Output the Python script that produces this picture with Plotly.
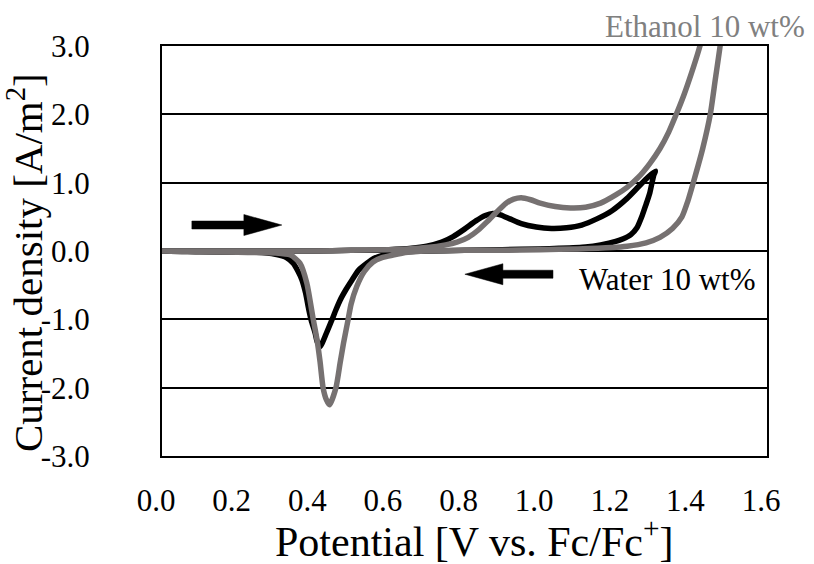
import plotly.graph_objects as go

# ---------------- data ----------------
water_fwd_x = [0.00, 0.10, 0.20, 0.30, 0.40, 0.50, 0.60, 0.66, 0.70, 0.74, 0.77, 0.80, 0.83, 0.855,
               0.875, 0.895, 0.92, 0.95, 0.99, 1.03, 1.07, 1.11, 1.15, 1.19, 1.23, 1.26, 1.285, 1.305]
water_fwd_y = [0.00, 0.00, 0.00, 0.00, 0.00, 0.01, 0.02, 0.04, 0.07, 0.13, 0.21, 0.32, 0.44, 0.52,
               0.55, 0.53, 0.47, 0.40, 0.35, 0.33, 0.34, 0.38, 0.47, 0.59, 0.77, 0.94, 1.08, 1.17]
water_rev_x = [1.300, 1.290, 1.280, 1.270, 1.256, 1.240, 1.220, 1.200, 1.160, 1.120, 1.050, 1.000,
               0.900, 0.800, 0.700, 0.650, 0.620, 0.585, 0.560, 0.542, 0.520, 0.503, 0.487, 0.471,
               0.460, 0.450, 0.435, 0.418, 0.410, 0.405, 0.395, 0.388, 0.380, 0.370, 0.360, 0.347,
               0.330, 0.300, 0.250, 0.200, 0.100, 0.000]
water_rev_y = [1.10, 0.85, 0.68, 0.52, 0.34, 0.24, 0.18, 0.14, 0.09, 0.06, 0.04, 0.03,
               0.02, 0.01, 0.00, -0.01, -0.03, -0.06, -0.11, -0.18, -0.28, -0.42, -0.56, -0.72,
               -0.86, -1.00, -1.20, -1.40, -1.32, -1.20, -1.02, -0.85, -0.62, -0.42, -0.30, -0.18,
               -0.10, -0.05, -0.02, -0.02, -0.01, 0.00]

ethanol_fwd_x = [0.00, 0.10, 0.20, 0.30, 0.40, 0.50, 0.60, 0.65, 0.70, 0.75, 0.78, 0.81, 0.835,
                 0.86, 0.885, 0.91, 0.93, 0.95, 0.975, 1.00, 1.04, 1.08, 1.12, 1.16, 1.20, 1.23,
                 1.26, 1.29, 1.317, 1.34, 1.36, 1.38, 1.40, 1.42, 1.44, 1.46, 1.48]
ethanol_fwd_y = [0.00, 0.00, 0.00, 0.00, 0.00, 0.01, 0.02, 0.03, 0.05, 0.09, 0.13, 0.20, 0.30,
                 0.43, 0.57, 0.70, 0.76, 0.78, 0.75, 0.70, 0.65, 0.63, 0.64, 0.70, 0.82, 0.93,
                 1.08, 1.28, 1.50, 1.74, 2.00, 2.28, 2.60, 2.95, 3.35, 3.80, 4.30]
ethanol_rev_x = [1.495, 1.488, 1.476, 1.463, 1.450, 1.430, 1.405, 1.390, 1.375, 1.350, 1.317,
                 1.280, 1.230, 1.190, 1.100, 1.000, 0.900, 0.800, 0.700, 0.650, 0.611, 0.580,
                 0.558, 0.535, 0.515, 0.500, 0.492, 0.480, 0.471, 0.460, 0.443, 0.435, 0.426,
                 0.418, 0.410, 0.400, 0.383, 0.365, 0.340, 0.300, 0.200, 0.100, 0.000]
ethanol_rev_y = [4.50, 3.60, 3.00, 2.50, 2.00, 1.50, 1.00, 0.72, 0.50, 0.33, 0.20,
                 0.12, 0.07, 0.05, 0.03, 0.02, 0.01, 0.01, 0.00, -0.02, -0.06, -0.10,
                 -0.16, -0.30, -0.52, -0.78, -1.01, -1.35, -1.64, -2.00, -2.25, -2.18, -2.00,
                 -1.62, -1.30, -1.00, -0.47, -0.18, -0.06, -0.03, -0.02, -0.01, 0.00]

x_ticks = [0.0, 0.2, 0.4, 0.6, 0.8, 1.0, 1.2, 1.4, 1.6]
y_ticks = [-3.0, -2.0, -1.0, 0.0, 1.0, 2.0, 3.0]
x_tick_labels = ["0.0", "0.2", "0.4", "0.6", "0.8", "1.0", "1.2", "1.4", "1.6"]
y_tick_labels = ["-3.0", "-2.0", "-1.0", "0.0", "1.0", "2.0", "3.0"]

labels = {"ethanol": "Ethanol 10 wt%", "water": "Water 10 wt%"}
x_title = "Potential [V vs. Fc/Fc<sup>+</sup>]"
y_title = "Current density [A/m<sup>2</sup>]"

# ---------------- layout constants ----------------
W, H = 814, 564
ML, MR, MT, MB = 162, 47, 46, 108
PW, PH = W - ML - MR, H - MT - MB
X_RANGE = [0.0, 1.6]
Y_RANGE = [-3.0, 3.0]
FONT = "Liberation Serif, Times New Roman, serif"
GREY = "#767171"

px_per_x = PW / (X_RANGE[1] - X_RANGE[0])
px_per_y = PH / (Y_RANGE[1] - Y_RANGE[0])


def paper_x(px):
    return (px - ML) / PW


def paper_y(py):
    return (H - MB - py) / PH


# scan-direction arrows: (tail x, tip x, y) in data units
arrow_specs = [(0.079, 0.317, 0.38), (1.034, 0.801, -0.34)]
SHAFT_HALF_PX, HEAD_HALF_PX, HEAD_LEN_PX = 4.0, 10.5, 38.0


def arrow_polygon(x0, x1, y):
    d = 1 if x1 > x0 else -1
    sh = SHAFT_HALF_PX / px_per_y
    hh = HEAD_HALF_PX / px_per_y
    hl = HEAD_LEN_PX / px_per_x
    xb = x1 - d * hl
    xs = [x0, xb, xb, x1, xb, xb, x0, x0]
    ys = [y - sh, y - sh, y - hh, y, y + hh, y + sh, y + sh, y - sh]
    return xs, ys


fig = go.Figure()
fig.add_trace(go.Scatter(
    x=water_fwd_x + water_rev_x, y=water_fwd_y + water_rev_y, mode="lines",
    line=dict(color="black", width=5.5, shape="spline", smoothing=0.6),
    showlegend=False, hoverinfo="skip"))
fig.add_trace(go.Scatter(
    x=ethanol_fwd_x + ethanol_rev_x, y=ethanol_fwd_y + ethanol_rev_y, mode="lines",
    line=dict(color=GREY, width=5.5, shape="spline", smoothing=0.6),
    showlegend=False, hoverinfo="skip"))

for (x0, x1, y) in arrow_specs:
    ax, ay = arrow_polygon(x0, x1, y)
    fig.add_trace(go.Scatter(x=ax, y=ay, mode="lines", fill="toself", fillcolor="black",
                             line=dict(color="black", width=0.5), showlegend=False,
                             hoverinfo="skip"))

fig.add_annotation(x=paper_x(705), y=paper_y(27), xref="paper", yref="paper",
                   xanchor="center", yanchor="middle", text=labels["ethanol"],
                   showarrow=False, font=dict(family=FONT, size=31, color="#808080"))
fig.add_annotation(x=1.336, y=-0.41, xref="x", yref="y", xanchor="center", yanchor="middle",
                   text=labels["water"],
                   showarrow=False, font=dict(family=FONT, size=31, color="black"))

# axis titles
fig.add_annotation(x=paper_x(473.5), y=paper_y(538), xref="paper", yref="paper",
                   xanchor="center", yanchor="middle", text=x_title, showarrow=False,
                   font=dict(family=FONT, size=42, color="black"))
fig.add_annotation(x=paper_x(25), y=paper_y(263), xref="paper", yref="paper",
                   xanchor="center", yanchor="middle", text=y_title, showarrow=False,
                   textangle=-90, font=dict(family=FONT, size=41, color="black"))

fig.update_layout(
    width=W, height=H,
    margin=dict(l=ML, r=MR, t=MT, b=MB, pad=0),
    paper_bgcolor="white", plot_bgcolor="white",
    showlegend=False,
)
fig.update_xaxes(
    range=X_RANGE, tickvals=x_ticks, ticktext=x_tick_labels, showgrid=False, zeroline=False,
    showline=True, linecolor="black", linewidth=2, mirror=True, ticks="",
    tickfont=dict(family=FONT, size=31, color="black"), ticklabelshift=-6,
    ticklabelstandoff=16,
)
fig.update_yaxes(
    range=Y_RANGE, tickvals=y_ticks, ticktext=y_tick_labels, showgrid=True,
    gridcolor="black", gridwidth=2, zeroline=False,
    showline=True, linecolor="black", linewidth=2, mirror=True, ticks="",
    tickfont=dict(family=FONT, size=31, color="black"), ticklabelstandoff=64,
)

fig.write_html("out.html")
